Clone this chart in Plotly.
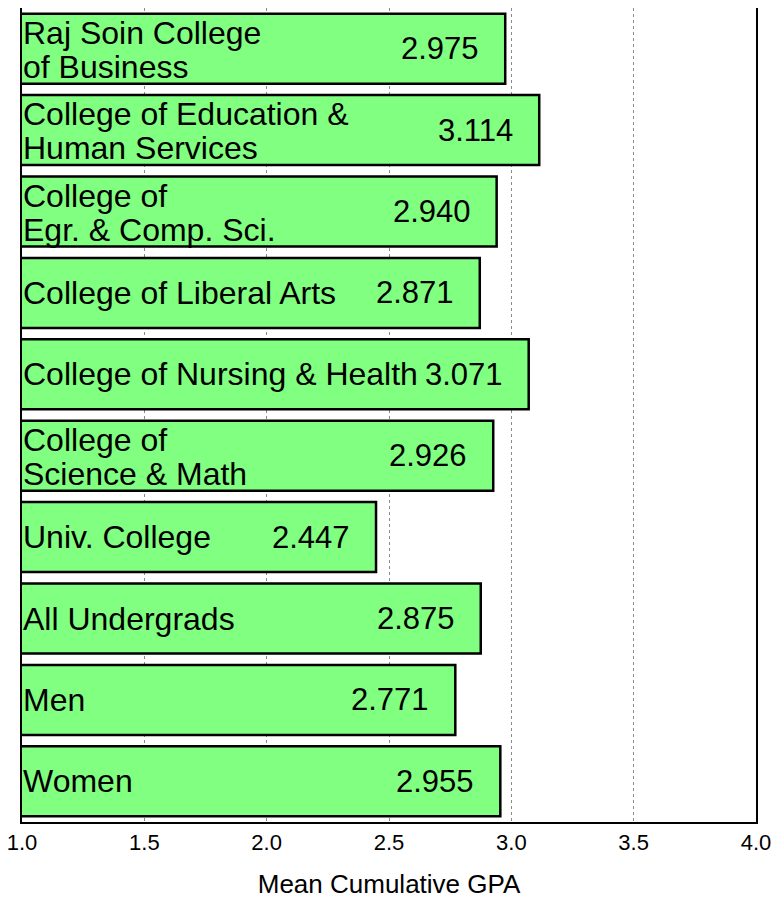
import plotly.graph_objects as go

# label lines are split with "\n" for the two-line names
labels = [
    "Raj Soin College\nof Business",
    "College of Education &\nHuman Services",
    "College of\nEgr. & Comp. Sci.",
    "College of Liberal Arts",
    "College of Nursing & Health",
    "College of\nScience & Math",
    "Univ. College",
    "All Undergrads",
    "Men",
    "Women",
]
gpa = [2.975, 3.114, 2.940, 2.871, 3.071, 2.926, 2.447, 2.875, 2.771, 2.955]
tick_vals = [1.0, 1.5, 2.0, 2.5, 3.0, 3.5, 4.0]
tick_text = ["1.0", "1.5", "2.0", "2.5", "3.0", "3.5", "4.0"]

FONT = "Liberation Sans, Arial, sans-serif"


def main():
    cats = [lab.replace("\n", " ") for lab in labels]

    fig = go.Figure(go.Bar(
        x=gpa, y=cats, orientation="h",
        marker=dict(color="#80FF80", line=dict(color="black", width=2.5)),
        hoverinfo="x+y",
    ))

    annotations = []
    for cat, lab, val in zip(cats, labels, gpa):
        lines = lab.split("\n")
        n = len(lines)
        for i, line in enumerate(lines):
            shift = 0 if n == 1 else (16 - 34 * i)
            annotations.append(dict(
                x=1.0, y=cat, xref="x", yref="y", text=line, showarrow=False,
                xanchor="left", yanchor="middle", xshift=-1, yshift=shift,
                font=dict(size=32, color="black", family=FONT)))
        annotations.append(dict(
            x=val, y=cat, xref="x", yref="y", text=f"{val:.3f}",
            showarrow=False, xanchor="right", yanchor="middle", xshift=-24,
            font=dict(size=31, color="black", family=FONT)))

    # the page body adds an 8px offset, so the figure is 8px smaller
    fig.update_layout(
        width=773, height=892,
        margin=dict(l=14, r=25, t=0, b=78, autoexpand=False),
        paper_bgcolor="white", plot_bgcolor="white",
        bargap=0.14,
        showlegend=False,
        annotations=annotations,
        xaxis=dict(
            range=[1.0, 4.0], tickvals=tick_vals, ticktext=tick_text,
            showgrid=True, gridcolor="#8a8a8a", gridwidth=1, griddash="dot",
            showline=True, linecolor="black", linewidth=2, mirror=True,
            ticks="", zeroline=False, automargin=False,
            ticklabeloverflow="allow",
            tickfont=dict(size=22, color="black", family=FONT),
            title=dict(text="Mean Cumulative GPA", standoff=20,
                       font=dict(size=26, color="black", family=FONT)),
        ),
        yaxis=dict(
            autorange="reversed", showticklabels=False, ticks="",
            showgrid=False, showline=True, linecolor="black", linewidth=2,
            mirror=True, zeroline=False, automargin=False,
        ),
    )
    fig.write_html("out.html")


if __name__ == "__main__":
    main()
